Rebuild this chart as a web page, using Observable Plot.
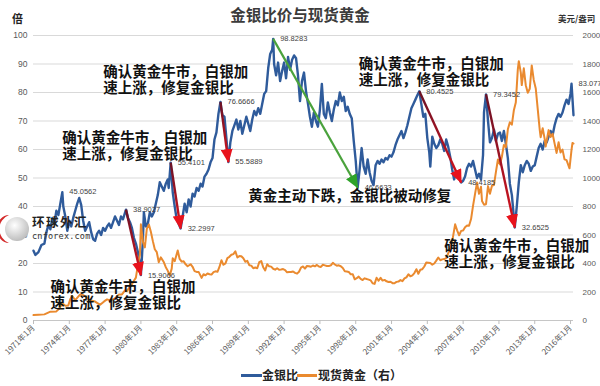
<!DOCTYPE html>
<html><head><meta charset="utf-8">
<script src="https://cdn.jsdelivr.net/npm/d3@7"></script>
<script src="https://cdn.jsdelivr.net/npm/@observablehq/plot@0.6"></script>
<style>
html,body{margin:0;padding:0;background:#fff;}
#wrap{position:relative;width:600px;height:386px;overflow:hidden;font-family:"Noto Sans CJK SC","Liberation Sans",sans-serif;}
#chart{position:absolute;left:0;top:0;}
.abs{position:absolute;white-space:nowrap;}
</style></head><body>
<div id="wrap">
  <div id="chart"></div>
  <div class="abs" style="left:0;width:600px;top:4px;text-align:center;font-size:15.5px;font-weight:700;color:#3b3b3b;line-height:20px;">金银比价与现货黄金</div>
  <div class="abs" style="left:12px;top:11px;font-size:11px;font-weight:700;color:#222;line-height:14px;">倍</div>
  <div class="abs" style="left:558px;top:12px;font-size:8.5px;font-weight:700;color:#333;line-height:12px;">美元/盎司</div>
  <div class="abs" style="left:241px;top:374px;width:21px;height:2.5px;background:#2F5B9B;"></div>
  <div class="abs" style="left:262px;top:367px;font-size:12px;font-weight:700;color:#222;line-height:16px;">金银比</div>
  <div class="abs" style="left:297px;top:374px;width:20px;height:2.5px;background:#EA8A2F;"></div>
  <div class="abs" style="left:318px;top:367px;font-size:12px;font-weight:700;color:#222;line-height:16px;">现货黄金（右）</div>
  <svg class="abs" style="left:0;top:212px;pointer-events:none" width="95" height="36">
    <defs><radialGradient id="ball" cx="0.4" cy="0.35" r="0.7"><stop offset="0" stop-color="#ffffff"/><stop offset="1" stop-color="#b9b9b9"/></radialGradient></defs>
    <circle cx="17" cy="17" r="12" fill="url(#ball)"/>
    <path d="M9,3 A15,15 0 0 0 9,31 A12,14 0 0 1 9,3 Z" fill="#d42a2a"/>
    <text x="32" y="15" font-family="Noto Sans CJK SC" font-weight="700" font-size="12.5" letter-spacing="1.5" fill="#222">环球外汇</text>
    <text x="32" y="27" font-family="DejaVu Sans Mono" font-size="8.5" letter-spacing="0.2" fill="#333">cnforex.com</text>
  </svg>
</div>
<script>
// ---------- data ----------
const ratioMonths = [
"1971-01","1971-03","1971-06","1971-09","1971-12",
"1972-02","1972-04","1972-06","1972-08","1972-10","1972-12",
"1973-02","1973-04","1973-06","1973-07","1973-09","1973-11",
"1974-01","1974-03","1974-05","1974-07","1974-09","1974-11",
"1975-01","1975-03","1975-05","1975-07","1975-09","1975-11",
"1976-01","1976-03","1976-05","1976-07","1976-09","1976-11",
"1977-01","1977-03","1977-05","1977-07","1977-09","1977-11",
"1978-01","1978-03","1978-05","1978-07","1978-10","1978-12",
"1979-02","1979-04","1979-06","1979-08","1979-10","1979-12",
"1980-01","1980-03","1980-04","1980-06","1980-08","1980-10","1980-12",
"1981-02","1981-04","1981-06","1981-08","1981-10","1981-12",
"1982-02","1982-04","1982-05","1982-07","1982-09","1982-11",
"1983-01","1983-05","1983-07","1983-09","1983-11",
"1984-01","1984-03","1984-05","1984-07","1984-09","1984-11",
"1985-01","1985-03","1985-05","1985-07","1985-09","1985-11",
"1986-01","1986-03","1986-05","1986-07","1986-09","1986-10","1986-11",
"1987-01","1987-03","1987-05","1987-07","1987-09","1987-11",
"1988-01","1988-03","1988-05","1988-07","1988-09","1988-11",
"1989-01","1989-03","1989-05","1989-07","1989-09","1989-11",
"1990-01","1990-03","1990-05","1990-07","1990-09","1990-11",
"1991-01","1991-02","1991-03","1991-05","1991-07","1991-09","1991-11",
"1992-01","1992-03","1992-05","1992-07","1992-09","1992-11",
"1993-01","1993-03","1993-05","1993-07","1993-09","1993-11",
"1994-01","1994-03","1994-05","1994-07","1994-09","1994-11",
"1995-01","1995-03","1995-05","1995-07","1995-09","1995-11",
"1996-01","1996-03","1996-05","1996-07","1996-09","1996-11",
"1997-01","1997-03","1997-05","1997-07","1997-09","1997-11",
"1998-01","1998-03","1998-05","1998-07","1998-09","1998-11",
"1999-01","1999-03","1999-05","1999-07","1999-09","1999-11",
"2000-01","2000-03","2000-05","2000-07","2000-09","2000-11",
"2001-01","2001-03","2001-05","2001-07","2001-09","2001-11",
"2002-01","2002-03","2002-05","2002-07","2002-09","2002-11",
"2003-01","2003-03","2003-05","2003-07","2003-09","2003-11",
"2004-01","2004-03","2004-04","2004-06","2004-08","2004-10","2004-12",
"2005-02","2005-04","2005-06","2005-08","2005-10","2005-12",
"2006-02","2006-04","2006-06","2006-08","2006-11",
"2007-01","2007-03","2007-05","2007-07","2007-09","2007-11",
"2008-01","2008-03","2008-05","2008-07","2008-09","2008-10","2008-12",
"2009-02","2009-04","2009-06","2009-08","2009-10","2009-12",
"2010-02","2010-04","2010-06","2010-08","2010-10","2010-12",
"2011-02","2011-05","2011-07","2011-09","2011-11",
"2012-01","2012-03","2012-05","2012-07","2012-09","2012-11",
"2013-01","2013-03","2013-05","2013-07","2013-09","2013-11",
"2014-01","2014-03","2014-05","2014-07","2014-09","2014-11",
"2015-01","2015-03","2015-05","2015-07","2015-09","2015-11",
"2016-01","2016-02","2016-04"];
const ratioValues = [
24.5,23.0,24.0,26.5,27.0,
31.0,33.5,32.0,36.0,34.0,38.5,
37.0,41.0,45.0562,40.0,36.5,31.5,
35.0,33.0,36.0,38.5,41.0,43.0,
40.5,35.0,31.5,33.0,34.5,31.0,
28.5,28.0,30.5,31.5,30.0,32.5,
31.5,33.0,34.0,32.5,34.5,36.5,
35.0,33.5,36.5,35.5,38.9027,36.0,
34.5,32.5,29.0,27.0,24.0,20.0,
15.9066,28.0,38.0,33.0,34.0,38.0,36.5,
38.0,41.0,44.0,48.5,47.0,45.5,
48.0,49.5,46.5,55.4101,45.0,40.0,
35.5,32.2997,36.5,41.0,38.0,
42.5,40.0,44.5,43.5,46.5,45.5,
48.0,47.0,50.5,51.5,53.0,55.5,
57.0,63.5,66.0,72.5,76.6666,74.0,72.0,
71.5,64.0,55.5889,62.5,66.5,68.5,
70.5,67.0,70.0,65.5,68.5,71.5,
69.0,66.5,70.5,73.5,72.0,74.5,
72.5,76.0,79.5,80.5,88.5,93.5,
95.0,98.8283,90.0,86.0,90.5,84.0,87.5,
90.5,85.0,92.5,88.0,91.5,93.0,
92.0,86.0,77.0,84.0,87.0,80.5,
76.0,71.5,68.0,73.0,70.0,68.0,
74.0,83.0,72.5,71.0,76.5,73.0,
70.0,74.0,77.0,75.5,80.0,77.0,
78.5,73.5,75.0,72.5,71.0,63.0,
56.0,46.6633,53.0,60.5,54.0,51.5,
56.5,52.0,49.0,47.5,54.5,56.0,
55.0,56.5,55.5,57.0,56.5,58.0,
57.5,59.0,61.5,63.5,65.0,66.5,
64.0,66.0,68.5,71.5,74.5,76.0,
77.5,79.0,80.4525,76.0,71.5,72.5,
64.0,59.0,54.0,64.5,62.0,60.5,61.5,
63.5,62.0,59.5,63.5,61.0,57.5,
53.0,49.5,52.5,50.5,48.4185,
49.0,50.5,53.5,55.0,54.0,56.0,
53.0,50.0,51.5,49.5,58.0,73.0,79.3452,
70.0,62.5,64.0,67.0,63.0,65.5,
66.0,63.0,66.5,62.0,57.0,48.0,
44.0,32.6525,40.0,48.5,54.5,
52.0,54.5,56.0,55.0,52.5,54.0,
54.5,57.5,60.5,62.0,60.0,63.0,
62.5,64.5,66.5,65.0,68.5,71.0,
72.5,71.5,73.0,75.5,77.5,76.0,
79.5,83.0778,72.0];

const goldMonths = [
"1971-01","1971-06","1971-12","1972-06","1972-12","1973-03","1973-06","1973-09","1973-12",
"1974-02","1974-04","1974-07","1974-12","1975-03","1975-06","1975-09","1975-12",
"1976-03","1976-08","1976-12","1977-03","1977-06","1977-09","1977-12",
"1978-03","1978-06","1978-09","1978-11","1979-01","1979-03","1979-06","1979-08","1979-10","1979-12",
"1980-01","1980-03","1980-05","1980-07","1980-09","1980-11",
"1981-01","1981-03","1981-05","1981-07","1981-09","1981-12",
"1982-02","1982-04","1982-06","1982-08","1982-09","1982-11",
"1983-02","1983-04","1983-06","1983-08","1983-10","1983-12",
"1984-03","1984-05","1984-07","1984-09","1984-11",
"1985-02","1985-04","1985-06","1985-08","1985-10","1985-12",
"1986-02","1986-04","1986-06","1986-08","1986-10","1986-12",
"1987-02","1987-04","1987-06","1987-08","1987-10","1987-12",
"1988-02","1988-04","1988-06","1988-08","1988-10","1988-12",
"1989-02","1989-04","1989-06","1989-08","1989-10","1989-12",
"1990-02","1990-04","1990-06","1990-08","1990-10","1990-12",
"1991-02","1991-04","1991-06","1991-08","1991-10","1991-12",
"1992-02","1992-04","1992-06","1992-08","1992-10","1992-12",
"1993-02","1993-04","1993-06","1993-08","1993-10","1993-12",
"1994-02","1994-04","1994-06","1994-08","1994-10","1994-12",
"1995-02","1995-04","1995-06","1995-08","1995-10","1995-12",
"1996-02","1996-04","1996-06","1996-08","1996-10","1996-12",
"1997-02","1997-04","1997-06","1997-08","1997-10","1997-12",
"1998-02","1998-04","1998-06","1998-08","1998-10","1998-12",
"1999-02","1999-04","1999-06","1999-08","1999-10","1999-12",
"2000-02","2000-04","2000-06","2000-08","2000-10","2000-12",
"2001-02","2001-04","2001-06","2001-08","2001-10","2001-12",
"2002-02","2002-04","2002-06","2002-08","2002-10","2002-12",
"2003-02","2003-04","2003-06","2003-08","2003-10","2003-12",
"2004-02","2004-04","2004-06","2004-08","2004-10","2004-12",
"2005-02","2005-04","2005-06","2005-08","2005-10","2005-12",
"2006-02","2006-05","2006-07","2006-09","2006-11",
"2007-01","2007-03","2007-05","2007-07","2007-09","2007-11",
"2008-01","2008-03","2008-05","2008-07","2008-08","2008-10","2008-12",
"2009-02","2009-04","2009-06","2009-08","2009-10","2009-12",
"2010-02","2010-04","2010-06","2010-08","2010-10","2010-12",
"2011-02","2011-04","2011-06","2011-08","2011-09","2011-11","2011-12",
"2012-02","2012-04","2012-06","2012-08","2012-10","2012-12",
"2013-02","2013-04","2013-06","2013-07","2013-09","2013-11","2013-12",
"2014-02","2014-03","2014-05","2014-07","2014-09","2014-11",
"2015-01","2015-03","2015-05","2015-07","2015-09","2015-11","2015-12",
"2016-02","2016-03","2016-04"];
const goldValues = [
38,40,43,62,64,84,120,103,106,
150,172,143,183,178,165,143,139,
133,110,134,148,141,149,161,
183,183,212,206,227,242,279,301,391,460,
675,553,513,645,674,623,
557,500,480,409,443,410,
374,350,315,364,436,416,
491,432,413,416,394,381,
395,377,347,341,341,
299,325,317,330,325,322,
339,345,342,376,423,391,
401,438,447,461,466,486,
442,452,451,437,412,419,
388,385,367,372,367,409,
417,374,352,395,380,378,
363,357,367,356,358,361,
354,338,340,340,344,334,
329,342,371,379,364,383,
381,377,386,380,390,379,
376,391,387,383,383,387,
405,393,385,387,381,369,
346,344,341,324,325,289,
297,308,292,284,296,291,
287,282,261,257,300,279,
299,280,285,275,270,272,
262,261,271,273,284,276,
295,303,324,310,317,333,
360,328,356,360,379,407,
405,403,392,400,420,442,
423,429,431,438,470,510,
555,675,633,598,629,
631,655,667,665,712,806,
889,968,889,939,839,813,816,
943,890,946,950,1043,1130,
1095,1149,1232,1215,1342,1391,
1374,1473,1529,1760,1820,1739,1652,
1770,1651,1598,1626,1790,1688,
1628,1487,1342,1286,1349,1275,1221,
1300,1336,1288,1311,1241,1176,
1251,1179,1199,1131,1125,1086,1068,
1199,1246,1242];

// labelled extremes of the ratio
const extremeMonths = ["1973-06","1978-10","1980-01","1982-07","1983-05","1986-09","1987-05","1991-02","1998-03","2003-05","2006-11","2008-12","2011-05","2016-02"];
const extremeValues = [45.0562,38.9027,15.9066,55.4101,32.2997,76.6666,55.5889,98.8283,46.6633,80.4525,48.4185,79.3452,32.6525,83.0778];
const redArrowFrom = [1,3,5,9,11];
const redArrowTo   = [2,4,6,10,12];
const greenArrowFrom = [7];
const greenArrowTo   = [8];

const noteTexts = [
  "确认黄金牛市，白银加\n速上涨，修复金银比",
  "确认黄金牛市，白银加\n速上涨，修复金银比",
  "确认黄金牛市，白银加\n速上涨，修复金银比",
  "黄金主动下跌，金银比被动修复",
  "确认黄金牛市，白银加\n速上涨，修复金银比",
  "确认黄金牛市，白银加\n速上涨，修复金银比"];
const noteMonths = ["1976-11","1973-06","1998-04","1989-01","1972-06","2005-06"];
const noteValues = [84.4,61.2,87.3,43.9,9.0,23.4];

const xTickYears = d3.range(1971, 2017, 3);
const yTicks = d3.range(0, 101, 10);
const goldPerRatioUnit = 20; // right axis 0–2000 vs left axis 0–100
const xStart = "1971-01", xEnd = "2016-04";

// ---------- tables ----------
const parse = d3.utcParse("%Y-%m");
const ratio = ratioMonths.map((m, i) => ({date: parse(m), value: ratioValues[i]}));
const gold = goldMonths.map((m, i) => ({date: parse(m), value: goldValues[i] / goldPerRatioUnit}));
const extremes = extremeMonths.map((m, i) => ({date: parse(m), value: extremeValues[i], label: extremeValues[i].toFixed(4)}));
const mkArrows = (from, to) => from.map((f, i) => ({d1: extremes[f].date, v1: extremes[f].value, d2: extremes[to[i]].date, v2: extremes[to[i]].value}));
const redArrows = mkArrows(redArrowFrom, redArrowTo);
const greenArrows = mkArrows(greenArrowFrom, greenArrowTo);
const notes = noteMonths.map((m, i) => ({date: parse(m), value: noteValues[i], text: noteTexts[i]}));
const xTicks = xTickYears.map(y => new Date(Date.UTC(y, 0, 1)));

const chart = Plot.plot({
  width: 600, height: 362,
  marginLeft: 33, marginRight: 27, marginTop: 35, marginBottom: 42,
  style: {fontFamily: '"Liberation Sans","Noto Sans CJK SC",sans-serif', fontSize: "9px", color: "#595959", background: "transparent", overflow: "visible"},
  x: {type: "utc", domain: [parse(xStart), parse(xEnd)]},
  y: {domain: [0, 100]},
  marks: [
    Plot.gridY(yTicks, {stroke: "#d9d9d9", strokeOpacity: 1}),
    Plot.ruleY([0], {stroke: "#c6c6c6"}),
    Plot.axisY(yTicks, {anchor: "left", tickSize: 0, tickPadding: 6, label: null, fontSize: 8.5}),
    Plot.axisY(yTicks, {anchor: "right", tickSize: 0, tickPadding: 9, label: null, fontSize: 8, tickFormat: d => String(d * goldPerRatioUnit)}),
    Plot.axisX(xTicks, {tickRotate: -45, tickSize: 4, tickPadding: 2, label: null, fontSize: 8, stroke: "#bdbdbd",
      fontFamily: '"Noto Sans CJK SC",sans-serif', tickFormat: d => `${d.getUTCFullYear()}年1月`}),
    Plot.line(ratio, {x: "date", y: "value", stroke: "#2F5B9B", strokeWidth: 2.4, strokeLinejoin: "round"}),
    Plot.line(gold, {x: "date", y: "value", stroke: "#EA8A2F", strokeWidth: 2, strokeLinejoin: "round"}),
    Plot.text(extremes, {x: "date", y: "value", text: "label", dx: 7, textAnchor: "start", fill: "#3f3f3f", fontSize: 7.5}),
    Plot.link(redArrows, {x1: "d1", y1: "v1", x2: "d2", y2: "v2", stroke: "#b0141e", strokeWidth: 2.4}),
    Plot.link(greenArrows, {x1: "d1", y1: "v1", x2: "d2", y2: "v2", stroke: "#4aa23c", strokeWidth: 2.2}),
    Plot.text(notes, {x: "date", y: "value", text: "text", textAnchor: "start", lineAnchor: "middle", lineHeight: 1.12,
      fontSize: 14.5, fontWeight: 700, fill: "#111", fontFamily: '"Noto Sans CJK SC",sans-serif'})
  ]
});

// arrow heads (filled triangles) and shaft gradient
const ns = "http://www.w3.org/2000/svg";
const defs = document.createElementNS(ns, "defs");
defs.innerHTML = `
<linearGradient id="gradRed" x1="0" y1="0" x2="0" y2="1">
  <stop offset="0" stop-color="#6a1226"/><stop offset="1" stop-color="#d8141e"/>
</linearGradient>
<marker id="headRed" viewBox="0 0 14 12" refX="13" refY="6" markerWidth="14" markerHeight="12" markerUnits="userSpaceOnUse" orient="auto">
  <path d="M0,0 L14,6 L0,12 Z" fill="#e8121c"/>
</marker>
<marker id="headGreen" viewBox="0 0 14 12" refX="13" refY="6" markerWidth="14" markerHeight="12" markerUnits="userSpaceOnUse" orient="auto">
  <path d="M0,0 L14,6 L0,12 Z" fill="#2fa32a"/>
</marker>`;
chart.insertBefore(defs, chart.firstChild);
const linkGroups = chart.querySelectorAll('g[aria-label="link"]');
if (linkGroups[0]) linkGroups[0].querySelectorAll("path, line").forEach(p => {
  p.setAttribute("stroke", "url(#gradRed)");
  p.setAttribute("marker-end", "url(#headRed)");
});
if (linkGroups[1]) linkGroups[1].querySelectorAll("path, line").forEach(p => {
  p.setAttribute("marker-end", "url(#headGreen)");
});
document.getElementById("chart").appendChild(chart);
</script>
</body></html>
